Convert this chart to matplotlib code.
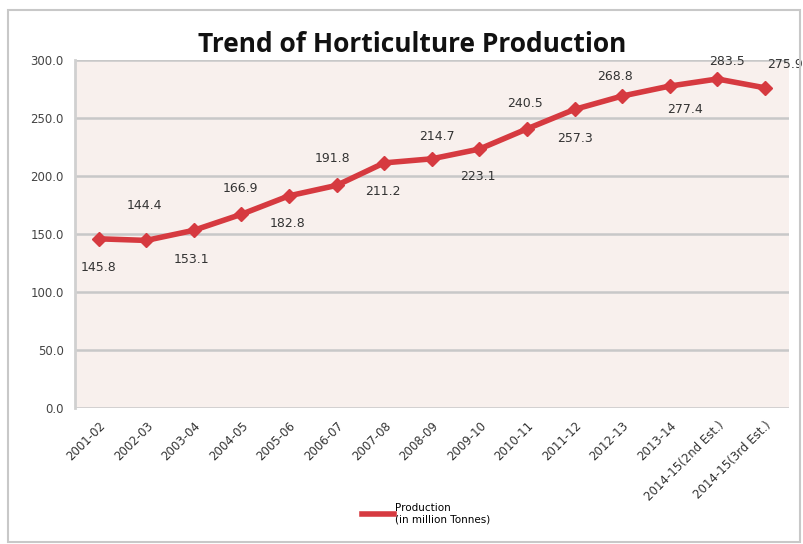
import matplotlib.pyplot as plt
from matplotlib.patches import Rectangle
from matplotlib.lines import Line2D

# data
years = ['2001-02', '2002-03', '2003-04', '2004-05', '2005-06', '2006-07',
         '2007-08', '2008-09', '2009-10', '2010-11', '2011-12', '2012-13',
         '2013-14', '2014-15(2nd Est.)', '2014-15(3rd Est.)']
production = [145.8, 144.4, 153.1, 166.9, 182.8, 191.8, 211.2, 214.7,
              223.1, 240.5, 257.3, 268.8, 277.4, 283.5, 275.9]

# where each value label sits relative to its point (pixels)
label_dx = [0, -2, -2, -1, -1, -4, -1, 5, -1, -2, 0, -7, 15, 10, 20]
label_dy = [-29, 35, -29, 26, -28, 27, -29, 22, -27, 25, -29, 20, -23, 17, 23]

red = '#d63a40'

fig = plt.figure(figsize=(8.04, 5.44), dpi=100)
fig.patch.set_facecolor('white')
fig.patches.append(Rectangle((8 / 804, 2 / 544), 792 / 804, 532 / 544,
                             transform=fig.transFigure, fill=False,
                             edgecolor='#c8c8c8', lw=1.5))

ax = fig.add_axes([0.093, 0.25, 0.888, 0.64])
ax.set_facecolor('#f8f0ed')
x = list(range(len(years)))
ax.plot(x, production, color=red, lw=4, marker='D', markersize=7,
        markeredgecolor=red, zorder=3)

for i, v in enumerate(production):
    ax.annotate(f'{v:.1f}', (i, v), xytext=(label_dx[i], label_dy[i]),
                textcoords='offset pixels', ha='center', va='center',
                fontsize=9, color='#333333')

ax.set_xlim(-0.5, len(years) - 0.5)
ax.set_ylim(0, 300)
ax.set_yticks(range(0, 301, 50))
ax.set_yticklabels([f'{t:.1f}' for t in range(0, 301, 50)], fontsize=8.5, color='#444444')
ax.set_xticks(x)
ax.set_xticklabels(years, rotation=45, ha='right', rotation_mode='anchor',
                   fontsize=8.5, color='#333333')
ax.tick_params(length=0, pad=8)
ax.yaxis.grid(True, color='#c8c8c8', lw=1.8)
ax.set_axisbelow(True)
for s in ['top', 'right', 'bottom']:
    ax.spines[s].set_visible(False)
ax.spines['left'].set_color('#d0d0d0')
ax.spines['left'].set_linewidth(2)

fig.text(0.513, 0.918, 'Trend of Horticulture Production', ha='center', va='center',
         fontsize=19, fontweight='bold', family='Open Sans', color='#111111')

handle = Line2D([], [], color=red, lw=4)
fig.legend([handle], ['Production\n(in million Tonnes)'], loc='center',
           bbox_to_anchor=(0.53, 0.055), frameon=False, fontsize=7.5,
           handlelength=3, handletextpad=0.1)

plt.savefig('out.png', dpi=100)
